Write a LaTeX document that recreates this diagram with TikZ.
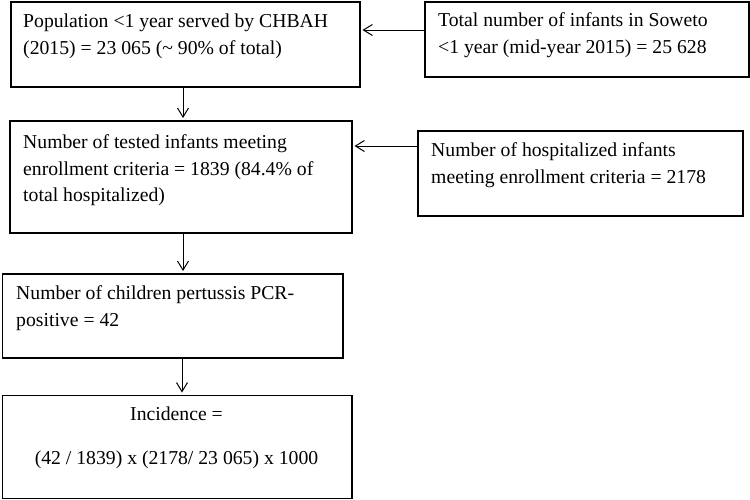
\documentclass[tikz,border=0pt]{standalone}
\usepackage{fontspec}
\setmainfont{Liberation Serif}
\usetikzlibrary{arrows.meta}
\begin{document}
\begin{tikzpicture}[x=1pt,y=1pt,
  box/.style={draw, line width=1.5pt, anchor=north west, inner sep=0pt},
  lbl/.style={anchor=north west, inner sep=0pt, align=left, font=\fontsize{19.7}{26.5}\selectfont},
  arr/.style={line width=1pt, shorten >=2pt, -{Straight Barb[length=9pt,width=11pt,line width=1pt]}}]
\useasboundingbox (0,0) rectangle (750,-499);
% boxes
\node[box, minimum width=349pt, minimum height=85pt] (b1) at (10,-1) {};
\node[box, minimum width=324pt, minimum height=75pt] (b2) at (424,-1) {};
\node[box, minimum width=342pt, minimum height=112pt] (b3) at (9,-120) {};
\node[box, minimum width=325pt, minimum height=85pt] (b4) at (417,-130) {};
\node[box, minimum width=340.5pt, minimum height=84pt] (b5) at (1.5,-273) {};
\node[box, minimum width=349.5pt, minimum height=103pt] (b6) at (1.5,-394.5) {};
% texts
\node[lbl] (t1) at (23,-8.8) {\strut Population <1 year served by CHBAH\\(2015) = 23 065 (\textasciitilde{} 90\% of total)};
\node[lbl] (t2) at (438,-7.8) {\strut Total number of infants in Soweto\\<1 year (mid-year 2015) = 25 628};
\node[lbl] (t3) at (23,-129.8) {\strut Number of tested infants meeting\\enrollment criteria = 1839 (84.4\% of\\total hospitalized)};
\node[lbl] (t4) at (431,-137.8) {\strut Number of hospitalized infants\\meeting enrollment criteria = 2178};
\node[lbl] (t5) at (16,-280.8) {\strut Number of children pertussis PCR-\\positive = 42};
\node[lbl, anchor=north, align=center] (t6) at (176.5,-401.8) {\strut Incidence =\\[17pt](42 / 1839) x (2178/ 23 065) x 1000};
% connector levels
\coordinate (ya) at (0,-30);
\coordinate (yb) at (0,-146);
\coordinate (xa) at (183,0);
\coordinate (xb) at (182,0);
% connectors
\draw[arr] (b2.west |- ya) -- (b1.east |- ya);
\draw[arr] (b4.west |- yb) -- (b3.east |- yb);
\draw[arr] (xa |- b1.south) -- (xa |- b3.north);
\draw[arr] (xa |- b3.south) -- (xa |- b5.north);
\draw[arr] (xb |- b5.south) -- (xb |- b6.north);
\end{tikzpicture}
\end{document}
